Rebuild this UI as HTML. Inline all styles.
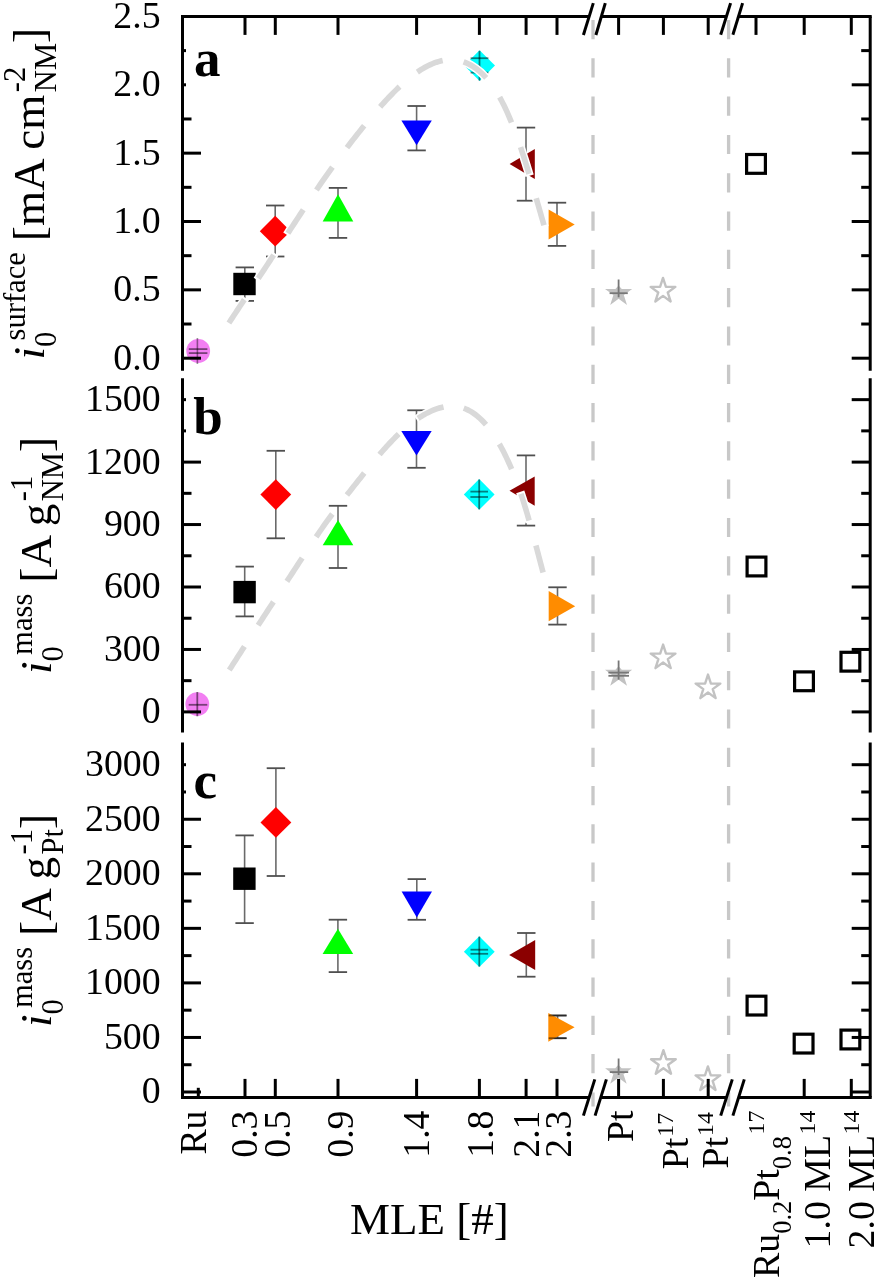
<!DOCTYPE html>
<html><head><meta charset="utf-8"><style>
html,body{margin:0;padding:0;background:#fff;}
svg{display:block;filter:blur(0.5px);}
</style></head><body>
<svg width="878" height="1280" viewBox="0 0 878 1280">
<rect x="0" y="0" width="878" height="1280" fill="#fff"/>
<line x1="593.0" y1="20" x2="593.0" y2="1106.4" stroke="#c8c8c8" stroke-width="3.3" stroke-dasharray="19.2 19.1"/>
<line x1="728.6" y1="20" x2="728.6" y2="1106.4" stroke="#c8c8c8" stroke-width="3.3" stroke-dasharray="19.2 19.1"/>
<circle cx="198.2" cy="351" r="11.9" fill="#f27ff2"/>
<line x1="197.4" y1="338" x2="197.4" y2="364" stroke="#000" stroke-width="1.6" stroke-opacity="0.42"/>
<line x1="188.8" y1="349.1" x2="207.4" y2="349.1" stroke="#000" stroke-width="1.8" stroke-opacity="0.5"/>
<line x1="188.8" y1="353.1" x2="207.4" y2="353.1" stroke="#000" stroke-width="1.8" stroke-opacity="0.5"/>
<line x1="244.8" y1="267.4" x2="244.8" y2="300.9" stroke="#6a6a6a" stroke-width="1.6" />
<line x1="235.6" y1="267.4" x2="254" y2="267.4" stroke="#505050" stroke-width="1.8" />
<line x1="235.6" y1="300.9" x2="254" y2="300.9" stroke="#505050" stroke-width="1.8" />
<rect x="233.3" y="272.8" width="22.4" height="22.4" fill="#000"/>
<line x1="275.2" y1="205.5" x2="275.2" y2="256.5" stroke="#6a6a6a" stroke-width="1.6" />
<line x1="266" y1="205.5" x2="284.4" y2="205.5" stroke="#505050" stroke-width="1.8" />
<line x1="266" y1="256.5" x2="284.4" y2="256.5" stroke="#505050" stroke-width="1.8" />
<polygon points="275.2,215.8 290.6,231.2 275.2,246.6 259.8,231.2" fill="#ff0000" />
<line x1="338" y1="187.9" x2="338" y2="237.9" stroke="#6a6a6a" stroke-width="1.6" />
<line x1="328.8" y1="187.9" x2="347.2" y2="187.9" stroke="#505050" stroke-width="1.8" />
<line x1="328.8" y1="237.9" x2="347.2" y2="237.9" stroke="#505050" stroke-width="1.8" />
<polygon points="338,194.3 353.3,221.6 322.7,221.6" fill="#00ff00" />
<line x1="416.6" y1="106" x2="416.6" y2="150.4" stroke="#6a6a6a" stroke-width="1.6" />
<line x1="407.4" y1="106" x2="425.8" y2="106" stroke="#505050" stroke-width="1.8" />
<line x1="407.4" y1="150.4" x2="425.8" y2="150.4" stroke="#505050" stroke-width="1.8" />
<polygon points="401.4,120.6 431.8,120.6 416.6,145.3" fill="#0000ff" />
<polygon points="479.6,50.2 495,65.6 479.6,81 464.2,65.6" fill="#00ffff" />
<line x1="479.5" y1="50.8" x2="479.5" y2="80.6" stroke="#000" stroke-width="1.8" stroke-opacity="0.5"/>
<line x1="470.6" y1="58.2" x2="488.4" y2="58.2" stroke="#000" stroke-width="1.8" stroke-opacity="0.5"/>
<line x1="470.6" y1="72.6" x2="488.4" y2="72.6" stroke="#000" stroke-width="1.8" stroke-opacity="0.5"/>
<line x1="526" y1="127.6" x2="526" y2="200.7" stroke="#6a6a6a" stroke-width="1.6" />
<line x1="516.8" y1="127.6" x2="535.2" y2="127.6" stroke="#505050" stroke-width="1.8" />
<line x1="516.8" y1="200.7" x2="535.2" y2="200.7" stroke="#505050" stroke-width="1.8" />
<polygon points="509.6,164 534.8,149 534.8,179" fill="#8b0000" />
<line x1="557" y1="202.7" x2="557" y2="245.9" stroke="#6a6a6a" stroke-width="1.6" />
<line x1="547.8" y1="202.7" x2="566.2" y2="202.7" stroke="#505050" stroke-width="1.8" />
<line x1="547.8" y1="245.9" x2="566.2" y2="245.9" stroke="#505050" stroke-width="1.8" />
<polygon points="548.6,209.5 574.7,224.4 548.6,239.5" fill="#ff8c00" />
<polygon points="618.6,285.53 621.81,288.98 632.2,288.98 623.8,295.09 627.01,304.97 618.6,298.86 610.19,304.97 613.4,295.09 605,288.98 615.39,288.98" fill="#c2c2c2" />
<line x1="618.6" y1="279.5" x2="618.6" y2="297.3" stroke="#777777" stroke-width="1.8" />
<line x1="609.6" y1="293.2" x2="627.8" y2="293.2" stroke="#777777" stroke-width="1.8" />
<polygon points="663,277.9 665.92,286.88 675.36,286.88 667.72,292.43 670.64,301.42 663,295.87 655.36,301.42 658.28,292.43 650.64,286.88 660.08,286.88" fill="none" stroke="#c2c2c2" stroke-width="2.4" stroke-linejoin="round"/>
<rect x="746.6" y="154.5" width="18.8" height="18.8" fill="none" stroke="#000" stroke-width="3.2"/>
<circle cx="197.3" cy="704.1" r="11.9" fill="#f27ff2"/>
<line x1="197.3" y1="692" x2="197.3" y2="716.3" stroke="#000" stroke-width="1.8" stroke-opacity="0.5"/>
<line x1="188.7" y1="704.8" x2="207.3" y2="704.8" stroke="#000" stroke-width="1.8" stroke-opacity="0.5"/>
<line x1="244.7" y1="566.6" x2="244.7" y2="616.4" stroke="#6a6a6a" stroke-width="1.6" />
<line x1="235.5" y1="566.6" x2="253.9" y2="566.6" stroke="#505050" stroke-width="1.8" />
<line x1="235.5" y1="616.4" x2="253.9" y2="616.4" stroke="#505050" stroke-width="1.8" />
<rect x="233.4" y="580.9" width="22.4" height="22.4" fill="#000"/>
<line x1="275.8" y1="450.8" x2="275.8" y2="538.3" stroke="#6a6a6a" stroke-width="1.6" />
<line x1="266.6" y1="450.8" x2="285" y2="450.8" stroke="#505050" stroke-width="1.8" />
<line x1="266.6" y1="538.3" x2="285" y2="538.3" stroke="#505050" stroke-width="1.8" />
<polygon points="275.8,479.2 291.2,494.6 275.8,510 260.4,494.6" fill="#ff0000" />
<line x1="338" y1="505.8" x2="338" y2="568" stroke="#6a6a6a" stroke-width="1.6" />
<line x1="328.8" y1="505.8" x2="347.2" y2="505.8" stroke="#505050" stroke-width="1.8" />
<line x1="328.8" y1="568" x2="347.2" y2="568" stroke="#505050" stroke-width="1.8" />
<polygon points="338,520 353.3,545.2 322.7,545.2" fill="#00ff00" />
<line x1="416.5" y1="410.3" x2="416.5" y2="467.8" stroke="#6a6a6a" stroke-width="1.6" />
<line x1="407.3" y1="410.3" x2="425.7" y2="410.3" stroke="#505050" stroke-width="1.8" />
<line x1="407.3" y1="467.8" x2="425.7" y2="467.8" stroke="#505050" stroke-width="1.8" />
<polygon points="401.3,431 431.7,431 416.5,455.6" fill="#0000ff" />
<polygon points="479.2,479 494.6,494.4 479.2,509.8 463.8,494.4" fill="#00ffff" />
<line x1="479.2" y1="479.5" x2="479.2" y2="509.4" stroke="#000" stroke-width="1.8" stroke-opacity="0.5"/>
<line x1="470.4" y1="491.6" x2="488" y2="491.6" stroke="#000" stroke-width="1.8" stroke-opacity="0.5"/>
<line x1="470.4" y1="497" x2="488" y2="497" stroke="#000" stroke-width="1.8" stroke-opacity="0.5"/>
<line x1="526" y1="455.4" x2="526" y2="525.6" stroke="#6a6a6a" stroke-width="1.6" />
<line x1="516.8" y1="455.4" x2="535.2" y2="455.4" stroke="#505050" stroke-width="1.8" />
<line x1="516.8" y1="525.6" x2="535.2" y2="525.6" stroke="#505050" stroke-width="1.8" />
<polygon points="509.5,490.8 534.7,476.5 534.7,505.7" fill="#8b0000" />
<line x1="557.5" y1="587.3" x2="557.5" y2="624.6" stroke="#6a6a6a" stroke-width="1.6" />
<line x1="548.3" y1="587.3" x2="566.7" y2="587.3" stroke="#505050" stroke-width="1.8" />
<line x1="548.3" y1="624.6" x2="566.7" y2="624.6" stroke="#505050" stroke-width="1.8" />
<polygon points="548.7,591 575.2,606.3 548.7,621.2" fill="#ff8c00" />
<polygon points="618.6,666.34 621.81,669.78 632.2,669.78 623.8,675.89 627.01,685.77 618.6,679.66 610.19,685.77 613.4,675.89 605,669.78 615.39,669.78" fill="#c2c2c2" />
<line x1="618.6" y1="660.5" x2="618.6" y2="679.6" stroke="#777777" stroke-width="1.8" />
<line x1="608.4" y1="672.6" x2="629" y2="672.6" stroke="#777777" stroke-width="1.8" />
<line x1="608.4" y1="675.8" x2="629" y2="675.8" stroke="#777777" stroke-width="1.8" />
<polygon points="663.1,644.6 666.02,653.58 675.46,653.58 667.82,659.13 670.74,668.12 663.1,662.57 655.46,668.12 658.38,659.13 650.74,653.58 660.18,653.58" fill="none" stroke="#c2c2c2" stroke-width="2.4" stroke-linejoin="round"/>
<polygon points="708,674.6 710.92,683.58 720.36,683.58 712.72,689.13 715.64,698.12 708,692.57 700.36,698.12 703.28,689.13 695.64,683.58 705.08,683.58" fill="none" stroke="#c2c2c2" stroke-width="2.4" stroke-linejoin="round"/>
<rect x="747.1" y="557.1" width="18.8" height="18.8" fill="none" stroke="#000" stroke-width="3.2"/>
<rect x="794.6" y="671.9" width="18.8" height="18.8" fill="none" stroke="#000" stroke-width="3.2"/>
<rect x="841" y="652.3" width="18.8" height="18.8" fill="none" stroke="#000" stroke-width="3.2"/>
<line x1="244.6" y1="835.4" x2="244.6" y2="923.1" stroke="#6a6a6a" stroke-width="1.6" />
<line x1="235.4" y1="835.4" x2="253.8" y2="835.4" stroke="#505050" stroke-width="1.8" />
<line x1="235.4" y1="923.1" x2="253.8" y2="923.1" stroke="#505050" stroke-width="1.8" />
<rect x="233.2" y="867.5" width="22.4" height="22.4" fill="#000"/>
<line x1="275.9" y1="768.2" x2="275.9" y2="876" stroke="#6a6a6a" stroke-width="1.6" />
<line x1="266.7" y1="768.2" x2="285.1" y2="768.2" stroke="#505050" stroke-width="1.8" />
<line x1="266.7" y1="876" x2="285.1" y2="876" stroke="#505050" stroke-width="1.8" />
<polygon points="275.9,807 291.3,822.4 275.9,837.8 260.5,822.4" fill="#ff0000" />
<line x1="337.9" y1="919.7" x2="337.9" y2="972.1" stroke="#6a6a6a" stroke-width="1.6" />
<line x1="328.7" y1="919.7" x2="347.1" y2="919.7" stroke="#505050" stroke-width="1.8" />
<line x1="328.7" y1="972.1" x2="347.1" y2="972.1" stroke="#505050" stroke-width="1.8" />
<polygon points="337.9,928.8 353.2,953.9 322.6,953.9" fill="#00ff00" />
<line x1="416.8" y1="879.1" x2="416.8" y2="919.8" stroke="#6a6a6a" stroke-width="1.6" />
<line x1="407.6" y1="879.1" x2="426" y2="879.1" stroke="#505050" stroke-width="1.8" />
<line x1="407.6" y1="919.8" x2="426" y2="919.8" stroke="#505050" stroke-width="1.8" />
<polygon points="401.6,891.6 432,891.6 416.8,917.4" fill="#0000ff" />
<polygon points="479.3,936.3 494.7,951.7 479.3,967.1 463.9,951.7" fill="#00ffff" />
<line x1="479.3" y1="936.6" x2="479.3" y2="966.6" stroke="#000" stroke-width="1.8" stroke-opacity="0.5"/>
<line x1="470.5" y1="949.7" x2="488.1" y2="949.7" stroke="#000" stroke-width="1.8" stroke-opacity="0.5"/>
<line x1="470.5" y1="953.8" x2="488.1" y2="953.8" stroke="#000" stroke-width="1.8" stroke-opacity="0.5"/>
<line x1="526.3" y1="933" x2="526.3" y2="976.7" stroke="#6a6a6a" stroke-width="1.6" />
<line x1="517.1" y1="933" x2="535.5" y2="933" stroke="#505050" stroke-width="1.8" />
<line x1="517.1" y1="976.7" x2="535.5" y2="976.7" stroke="#505050" stroke-width="1.8" />
<polygon points="509.2,955 535.2,940.1 535.2,970" fill="#8b0000" />
<line x1="557.6" y1="1015.5" x2="557.6" y2="1038.2" stroke="#6a6a6a" stroke-width="1.6" />
<line x1="548.4" y1="1015.5" x2="566.8" y2="1015.5" stroke="#505050" stroke-width="1.8" />
<line x1="548.4" y1="1038.2" x2="566.8" y2="1038.2" stroke="#505050" stroke-width="1.8" />
<polygon points="548.3,1013 574.6,1027.3 548.3,1041.8" fill="#ff8c00" />
<line x1="549" y1="1015.5" x2="566.2" y2="1015.5" stroke="#000" stroke-width="1.8" stroke-opacity="0.5"/>
<line x1="549" y1="1038.2" x2="566.2" y2="1038.2" stroke="#000" stroke-width="1.8" stroke-opacity="0.5"/>
<polygon points="618.4,1064.8 621.54,1068.17 631.71,1068.17 623.49,1074.15 626.63,1083.83 618.4,1077.85 610.17,1083.83 613.31,1074.15 605.09,1068.17 615.26,1068.17" fill="#c2c2c2" />
<line x1="618.6" y1="1058.5" x2="618.6" y2="1075" stroke="#777777" stroke-width="1.8" />
<line x1="609.8" y1="1072.1" x2="628.2" y2="1072.1" stroke="#777777" stroke-width="1.8" />
<polygon points="663.4,1050.2 666.32,1059.18 675.76,1059.18 668.12,1064.73 671.04,1073.72 663.4,1068.17 655.76,1073.72 658.68,1064.73 651.04,1059.18 660.48,1059.18" fill="none" stroke="#c2c2c2" stroke-width="2.4" stroke-linejoin="round"/>
<polygon points="707.9,1066.4 710.82,1075.38 720.26,1075.38 712.62,1080.93 715.54,1089.92 707.9,1084.37 700.26,1089.92 703.18,1080.93 695.54,1075.38 704.98,1075.38" fill="none" stroke="#c2c2c2" stroke-width="2.4" stroke-linejoin="round"/>
<rect x="747.1" y="996.2" width="18.8" height="18.8" fill="none" stroke="#000" stroke-width="3.2"/>
<rect x="794.2" y="1034.2" width="18.8" height="18.8" fill="none" stroke="#000" stroke-width="3.2"/>
<rect x="841" y="1030.1" width="18.8" height="18.8" fill="none" stroke="#000" stroke-width="3.2"/>
<line x1="198.3" y1="1087.8" x2="198.3" y2="1096" stroke="#000" stroke-width="3" />
<path d="M227.78,324.65 L229.13,322.59 L230.49,320.54 L231.85,318.49 L233.21,316.43 L234.56,314.38 L235.92,312.33 L237.28,310.27 L238.64,308.22 L239.99,306.17 L241.35,304.11 L242.71,302.06 L244.07,300.01 L245.42,297.95 M257.26,280.02 L258.61,277.96 L259.97,275.91 L261.32,273.85 L262.67,271.79 L264.02,269.74 L265.37,267.68 L266.73,265.62 L268.07,263.56 L269.42,261.5 L270.77,259.44 L272.12,257.38 L273.47,255.32 L274.82,253.26 M286.85,234.84 L288.19,232.78 L289.54,230.72 L290.89,228.66 L292.23,226.6 L293.58,224.54 L294.93,222.48 L296.27,220.42 L297.62,218.36 L298.97,216.3 L300.32,214.24 L301.67,212.18 L303.02,210.13 L304.38,208.07 M315.3,191.69 L316.68,189.65 L318.06,187.62 L319.45,185.59 L320.84,183.56 L322.24,181.53 L323.65,179.51 L325.06,177.49 L326.47,175.48 L327.89,173.47 L329.32,171.46 L330.75,169.46 L332.19,167.47 L333.64,165.47 M345.71,149.25 L347.2,147.3 L348.7,145.34 L350.2,143.39 L351.71,141.45 L353.22,139.51 L354.74,137.57 L356.26,135.63 L357.79,133.7 L359.32,131.77 L360.85,129.85 L362.39,127.93 L363.94,126.01 L365.49,124.1 M378.84,108.3 L380.47,106.45 L382.12,104.62 L383.77,102.8 L385.43,100.98 L387.11,99.18 L388.8,97.39 L390.5,95.61 L392.22,93.85 L393.95,92.1 L395.7,90.37 L397.47,88.65 L399.25,86.96 L401.06,85.28 M415.73,73.25 L417.75,71.84 L419.8,70.48 L421.89,69.17 L424,67.91 L426.16,66.72 L428.34,65.59 L430.57,64.53 L432.83,63.56 L435.12,62.67 L437.45,61.88 L439.82,61.2 L442.22,60.64 L444.64,60.2 M461.69,61.27 L464.03,62.03 L466.32,62.93 L468.56,63.97 L470.73,65.12 L472.85,66.38 L474.9,67.74 L476.89,69.19 L478.81,70.72 L480.68,72.32 L482.48,74 L484.22,75.74 L485.9,77.54 L487.52,79.39 M498.67,95.48 L499.89,97.62 L501.07,99.78 L502.22,101.96 L503.33,104.15 L504.42,106.36 L505.48,108.58 L506.51,110.82 L507.52,113.06 L508.51,115.32 L509.48,117.58 L510.42,119.85 L511.35,122.13 L512.27,124.42 M519.9,145.3 L520.7,147.63 L521.48,149.96 L522.25,152.3 L523.02,154.64 L523.78,156.98 L524.53,159.33 L525.27,161.67 L526.01,164.02 L526.74,166.37 L527.47,168.72 L528.19,171.08 L528.9,173.43 L529.61,175.79 M535.67,196.38 L536.35,198.74 L537.04,201.1 L537.72,203.47 L538.4,205.84 L539.08,208.2 L539.76,210.57 L540.44,212.93 L541.12,215.3 L541.8,217.66 L542.48,220.03 L543.16,222.4 L543.85,224.76 L544.53,227.12" fill="none" stroke="#fff" stroke-width="8.6" stroke-linecap="butt"/>
<path d="M228.88,322.98 L230.07,321.18 L231.25,319.38 L232.44,317.59 L233.63,315.79 L234.82,313.99 L236.01,312.2 L237.19,310.4 L238.38,308.61 L239.57,306.81 L240.76,305.01 L241.95,303.22 L243.13,301.42 L244.32,299.62 M258.36,278.35 L259.54,276.55 L260.73,274.75 L261.91,272.95 L263.09,271.15 L264.28,269.35 L265.46,267.55 L266.64,265.75 L267.82,263.95 L269,262.15 L270.18,260.35 L271.36,258.54 L272.54,256.74 L273.72,254.94 M287.94,233.17 L289.12,231.37 L290.3,229.56 L291.48,227.76 L292.65,225.96 L293.83,224.15 L295.01,222.35 L296.19,220.55 L297.37,218.75 L298.55,216.94 L299.73,215.14 L300.91,213.34 L302.09,211.54 L303.28,209.74 M316.42,190.03 L317.63,188.25 L318.84,186.47 L320.06,184.7 L321.28,182.92 L322.5,181.15 L323.73,179.38 L324.97,177.62 L326.21,175.86 L327.45,174.1 L328.7,172.34 L329.95,170.59 L331.2,168.84 L332.46,167.09 M346.92,147.66 L348.23,145.95 L349.55,144.25 L350.86,142.54 L352.18,140.84 L353.51,139.14 L354.83,137.45 L356.17,135.75 L357.5,134.06 L358.84,132.37 L360.18,130.69 L361.53,129.01 L362.88,127.33 L364.23,125.66 M380.17,106.8 L381.6,105.19 L383.04,103.59 L384.5,102 L385.96,100.42 L387.43,98.84 L388.91,97.28 L390.4,95.72 L391.9,94.18 L393.41,92.65 L394.94,91.13 L396.47,89.62 L398.02,88.12 L399.59,86.64 M417.37,72.1 L419.16,70.9 L420.97,69.73 L422.81,68.61 L424.67,67.53 L426.56,66.5 L428.48,65.52 L430.43,64.6 L432.4,63.73 L434.4,62.94 L436.43,62.21 L438.49,61.57 L440.57,61.01 L442.67,60.55 M463.6,61.88 L465.61,62.64 L467.59,63.5 L469.52,64.46 L471.4,65.5 L473.24,66.62 L475.02,67.82 L476.76,69.09 L478.46,70.42 L480.1,71.81 L481.7,73.26 L483.25,74.75 L484.75,76.3 L486.21,77.88 M499.66,97.22 L500.7,99.11 L501.72,101.01 L502.71,102.92 L503.67,104.84 L504.62,106.78 L505.55,108.72 L506.45,110.68 L507.34,112.64 L508.2,114.61 L509.06,116.59 L509.89,118.57 L510.72,120.57 L511.53,122.56 M520.55,147.19 L521.23,149.24 L521.91,151.28 L522.59,153.32 L523.26,155.37 L523.92,157.42 L524.57,159.47 L525.22,161.53 L525.87,163.58 L526.51,165.64 L527.15,167.7 L527.78,169.75 L528.41,171.81 L529.03,173.88 M536.23,198.3 L536.82,200.37 L537.42,202.44 L538.02,204.51 L538.61,206.57 L539.21,208.64 L539.8,210.71 L540.4,212.79 L540.99,214.86 L541.59,216.93 L542.18,218.99 L542.78,221.06 L543.38,223.13 L543.97,225.2" fill="none" stroke="#d9d9d9" stroke-width="5.6" stroke-linecap="butt"/>
<path d="M228.18,671.7 L229.51,669.63 L230.85,667.56 L232.18,665.49 L233.52,663.42 L234.85,661.35 L236.18,659.28 L237.52,657.22 L238.85,655.15 L240.18,653.08 L241.52,651.01 L242.85,648.94 L244.19,646.87 L245.52,644.8 M257.03,627.01 L258.37,624.95 L259.71,622.88 L261.05,620.82 L262.39,618.76 L263.73,616.69 L265.08,614.63 L266.42,612.57 L267.77,610.51 L269.12,608.45 L270.46,606.39 L271.81,604.33 L273.16,602.27 L274.51,600.21 M285.79,583.04 L287.14,580.98 L288.49,578.92 L289.84,576.86 L291.18,574.8 L292.53,572.74 L293.88,570.68 L295.22,568.62 L296.57,566.56 L297.91,564.49 L299.25,562.43 L300.6,560.37 L301.94,558.31 L303.29,556.25 M315.02,538.52 L316.4,536.48 L317.78,534.45 L319.17,532.42 L320.57,530.39 L321.98,528.37 L323.39,526.36 L324.81,524.35 L326.24,522.34 L327.68,520.35 L329.13,518.36 L330.59,516.37 L332.05,514.39 L333.52,512.42 M345.65,496.62 L347.17,494.68 L348.69,492.74 L350.21,490.81 L351.73,488.88 L353.26,486.95 L354.79,485.02 L356.31,483.08 L357.84,481.15 L359.37,479.22 L360.9,477.29 L362.43,475.37 L363.96,473.44 L365.5,471.52 M378.23,456.01 L379.83,454.14 L381.44,452.28 L383.06,450.43 L384.7,448.59 L386.35,446.76 L388.01,444.95 L389.69,443.15 L391.39,441.37 L393.11,439.6 L394.84,437.86 L396.59,436.13 L398.37,434.42 L400.16,432.74 M416.48,419.47 L418.52,418.1 L420.59,416.76 L422.69,415.48 L424.82,414.25 L426.99,413.08 L429.19,411.98 L431.42,410.94 L433.69,409.98 L435.98,409.1 L438.32,408.31 L440.68,407.63 L443.08,407.07 L445.5,406.63 M461.86,407.62 L464.2,408.39 L466.48,409.31 L468.7,410.37 L470.86,411.55 L472.95,412.85 L474.97,414.26 L476.92,415.76 L478.8,417.34 L480.62,419 L482.38,420.72 L484.08,422.5 L485.72,424.34 L487.31,426.22 M498.35,442.27 L499.58,444.4 L500.78,446.55 L501.95,448.72 L503.1,450.9 L504.22,453.09 L505.31,455.29 L506.38,457.51 L507.43,459.74 L508.46,461.97 L509.47,464.22 L510.46,466.47 L511.42,468.74 L512.37,471.01 M520.22,491.88 L521.01,494.21 L521.79,496.55 L522.56,498.88 L523.31,501.23 L524.06,503.57 L524.79,505.92 L525.51,508.28 L526.22,510.63 L526.92,512.99 L527.61,515.36 L528.3,517.72 L528.98,520.09 L529.65,522.45 M535.41,543.53 L536.04,545.91 L536.67,548.29 L537.3,550.67 L537.93,553.05 L538.56,555.43 L539.19,557.81 L539.81,560.19 L540.44,562.57 L541.07,564.95 L541.7,567.33 L542.33,569.71 L542.96,572.09 L543.59,574.47" fill="none" stroke="#fff" stroke-width="8.6" stroke-linecap="butt"/>
<path d="M229.26,670.02 L230.43,668.21 L231.6,666.4 L232.77,664.59 L233.93,662.78 L235.1,660.97 L236.27,659.16 L237.43,657.34 L238.6,655.53 L239.77,653.72 L240.93,651.91 L242.1,650.1 L243.27,648.29 L244.44,646.48 M258.11,625.33 L259.29,623.53 L260.46,621.72 L261.63,619.92 L262.81,618.11 L263.99,616.31 L265.16,614.5 L266.34,612.7 L267.52,610.9 L268.7,609.09 L269.87,607.29 L271.05,605.49 L272.24,603.69 L273.42,601.89 M286.89,581.37 L288.07,579.56 L289.25,577.76 L290.43,575.96 L291.61,574.16 L292.78,572.36 L293.96,570.55 L295.14,568.75 L296.31,566.94 L297.49,565.14 L298.67,563.33 L299.84,561.53 L301.02,559.73 L302.19,557.92 M316.14,536.86 L317.35,535.08 L318.56,533.3 L319.78,531.53 L321.01,529.76 L322.24,527.99 L323.48,526.23 L324.72,524.47 L325.97,522.72 L327.23,520.97 L328.5,519.23 L329.77,517.49 L331.05,515.75 L332.33,514.02 M346.88,495.04 L348.21,493.35 L349.54,491.66 L350.88,489.97 L352.21,488.27 L353.55,486.58 L354.88,484.89 L356.22,483.21 L357.55,481.52 L358.89,479.83 L360.23,478.14 L361.56,476.45 L362.91,474.76 L364.25,473.08 M379.53,454.49 L380.94,452.86 L382.35,451.24 L383.78,449.63 L385.21,448.02 L386.66,446.42 L388.12,444.84 L389.59,443.26 L391.07,441.7 L392.57,440.15 L394.08,438.62 L395.6,437.1 L397.14,435.59 L398.7,434.1 M418.13,418.35 L419.94,417.18 L421.77,416.04 L423.62,414.94 L425.5,413.88 L427.4,412.87 L429.33,411.91 L431.28,411 L433.26,410.15 L435.26,409.36 L437.29,408.64 L439.35,408 L441.43,407.44 L443.53,406.97 M463.76,408.23 L465.77,409 L467.74,409.89 L469.65,410.87 L471.52,411.95 L473.33,413.11 L475.09,414.35 L476.8,415.66 L478.45,417.04 L480.06,418.48 L481.62,419.96 L483.13,421.5 L484.6,423.07 L486.02,424.69 M499.35,444 L500.41,445.88 L501.44,447.77 L502.46,449.67 L503.45,451.58 L504.42,453.5 L505.38,455.43 L506.32,457.37 L507.24,459.32 L508.14,461.27 L509.03,463.23 L509.9,465.2 L510.76,467.18 L511.6,469.16 M520.86,493.77 L521.55,495.82 L522.22,497.86 L522.89,499.91 L523.55,501.96 L524.19,504.01 L524.83,506.07 L525.46,508.13 L526.09,510.19 L526.7,512.26 L527.31,514.32 L527.92,516.39 L528.51,518.46 L529.1,520.53 M535.92,545.47 L536.47,547.55 L537.03,549.63 L537.58,551.71 L538.13,553.79 L538.68,555.88 L539.23,557.96 L539.77,560.04 L540.32,562.12 L540.87,564.21 L541.42,566.29 L541.97,568.37 L542.53,570.45 L543.08,572.53" fill="none" stroke="#d9d9d9" stroke-width="5.6" stroke-linecap="butt"/>
<line x1="182.5" y1="16.4" x2="182.5" y2="370.7" stroke="#000" stroke-width="3" />
<line x1="870.2" y1="16.4" x2="870.2" y2="370.7" stroke="#000" stroke-width="3" />
<line x1="182.5" y1="378.2" x2="182.5" y2="732.4" stroke="#000" stroke-width="3" />
<line x1="870.2" y1="378.2" x2="870.2" y2="732.4" stroke="#000" stroke-width="3" />
<line x1="182.5" y1="742.6" x2="182.5" y2="1097.4" stroke="#000" stroke-width="3" />
<line x1="870.2" y1="742.6" x2="870.2" y2="1097.4" stroke="#000" stroke-width="3" />
<line x1="181" y1="16.4" x2="589.2" y2="16.4" stroke="#000" stroke-width="3" />
<line x1="181" y1="1097.4" x2="589.2" y2="1097.4" stroke="#000" stroke-width="3" />
<line x1="601.4" y1="16.4" x2="726.4" y2="16.4" stroke="#000" stroke-width="3" />
<line x1="601.4" y1="1097.4" x2="726.4" y2="1097.4" stroke="#000" stroke-width="3" />
<line x1="738.5" y1="16.4" x2="871.7" y2="16.4" stroke="#000" stroke-width="3" />
<line x1="738.5" y1="1097.4" x2="871.7" y2="1097.4" stroke="#000" stroke-width="3" />
<line x1="583.4" y1="35" x2="593.3" y2="3.1" stroke="#000" stroke-width="3" />
<line x1="595.9" y1="35" x2="605.3" y2="3.1" stroke="#000" stroke-width="3" />
<line x1="720.7" y1="34.7" x2="730.6" y2="3.1" stroke="#000" stroke-width="3" />
<line x1="732.9" y1="34.7" x2="742.6" y2="3.1" stroke="#000" stroke-width="3" />
<line x1="583.4" y1="1115.6" x2="594.8" y2="1079.4" stroke="#000" stroke-width="3" />
<line x1="595.1" y1="1115.6" x2="606.4" y2="1079.4" stroke="#000" stroke-width="3" />
<line x1="720.7" y1="1115.6" x2="732.3" y2="1079.4" stroke="#000" stroke-width="3" />
<line x1="732.9" y1="1115.6" x2="744.3" y2="1079.4" stroke="#000" stroke-width="3" />
<line x1="245" y1="16.4" x2="245" y2="34.9" stroke="#000" stroke-width="3" />
<line x1="245" y1="1097.4" x2="245" y2="1078.9" stroke="#000" stroke-width="3" />
<line x1="275.3" y1="16.4" x2="275.3" y2="34.9" stroke="#000" stroke-width="3" />
<line x1="275.3" y1="1097.4" x2="275.3" y2="1078.9" stroke="#000" stroke-width="3" />
<line x1="338" y1="16.4" x2="338" y2="34.9" stroke="#000" stroke-width="3" />
<line x1="338" y1="1097.4" x2="338" y2="1078.9" stroke="#000" stroke-width="3" />
<line x1="416.6" y1="16.4" x2="416.6" y2="34.9" stroke="#000" stroke-width="3" />
<line x1="416.6" y1="1097.4" x2="416.6" y2="1078.9" stroke="#000" stroke-width="3" />
<line x1="479.4" y1="16.4" x2="479.4" y2="34.9" stroke="#000" stroke-width="3" />
<line x1="479.4" y1="1097.4" x2="479.4" y2="1078.9" stroke="#000" stroke-width="3" />
<line x1="526.1" y1="16.4" x2="526.1" y2="34.9" stroke="#000" stroke-width="3" />
<line x1="526.1" y1="1097.4" x2="526.1" y2="1078.9" stroke="#000" stroke-width="3" />
<line x1="557" y1="16.4" x2="557" y2="34.9" stroke="#000" stroke-width="3" />
<line x1="557" y1="1097.4" x2="557" y2="1078.9" stroke="#000" stroke-width="3" />
<line x1="618.6" y1="16.4" x2="618.6" y2="34.9" stroke="#000" stroke-width="3" />
<line x1="618.6" y1="1097.4" x2="618.6" y2="1078.9" stroke="#000" stroke-width="3" />
<line x1="663.4" y1="16.4" x2="663.4" y2="34.9" stroke="#000" stroke-width="3" />
<line x1="663.4" y1="1097.4" x2="663.4" y2="1078.9" stroke="#000" stroke-width="3" />
<line x1="708.2" y1="16.4" x2="708.2" y2="34.9" stroke="#000" stroke-width="3" />
<line x1="708.2" y1="1097.4" x2="708.2" y2="1078.9" stroke="#000" stroke-width="3" />
<line x1="756" y1="16.4" x2="756" y2="34.9" stroke="#000" stroke-width="3" />
<line x1="804.2" y1="16.4" x2="804.2" y2="34.9" stroke="#000" stroke-width="3" />
<line x1="804.2" y1="1097.4" x2="804.2" y2="1078.9" stroke="#000" stroke-width="3" />
<line x1="851.3" y1="16.4" x2="851.3" y2="34.9" stroke="#000" stroke-width="3" />
<line x1="851.3" y1="1097.4" x2="851.3" y2="1078.9" stroke="#000" stroke-width="3" />
<line x1="182.5" y1="358.2" x2="201" y2="358.2" stroke="#000" stroke-width="3" />
<line x1="870.2" y1="358.2" x2="851.7" y2="358.2" stroke="#000" stroke-width="3" />
<line x1="182.5" y1="289.85" x2="201" y2="289.85" stroke="#000" stroke-width="3" />
<line x1="870.2" y1="289.85" x2="851.7" y2="289.85" stroke="#000" stroke-width="3" />
<line x1="182.5" y1="221.5" x2="201" y2="221.5" stroke="#000" stroke-width="3" />
<line x1="870.2" y1="221.5" x2="851.7" y2="221.5" stroke="#000" stroke-width="3" />
<line x1="182.5" y1="153.15" x2="201" y2="153.15" stroke="#000" stroke-width="3" />
<line x1="870.2" y1="153.15" x2="851.7" y2="153.15" stroke="#000" stroke-width="3" />
<line x1="182.5" y1="84.8" x2="201" y2="84.8" stroke="#000" stroke-width="3" />
<line x1="870.2" y1="84.8" x2="851.7" y2="84.8" stroke="#000" stroke-width="3" />
<line x1="182.5" y1="324.02" x2="191.5" y2="324.02" stroke="#000" stroke-width="3" />
<line x1="870.2" y1="324.02" x2="861.2" y2="324.02" stroke="#000" stroke-width="3" />
<line x1="182.5" y1="255.68" x2="191.5" y2="255.68" stroke="#000" stroke-width="3" />
<line x1="870.2" y1="255.68" x2="861.2" y2="255.68" stroke="#000" stroke-width="3" />
<line x1="182.5" y1="187.32" x2="191.5" y2="187.32" stroke="#000" stroke-width="3" />
<line x1="870.2" y1="187.32" x2="861.2" y2="187.32" stroke="#000" stroke-width="3" />
<line x1="182.5" y1="118.98" x2="191.5" y2="118.98" stroke="#000" stroke-width="3" />
<line x1="870.2" y1="118.98" x2="861.2" y2="118.98" stroke="#000" stroke-width="3" />
<line x1="182.5" y1="50.62" x2="191.5" y2="50.62" stroke="#000" stroke-width="3" />
<line x1="870.2" y1="50.62" x2="861.2" y2="50.62" stroke="#000" stroke-width="3" />
<line x1="182.5" y1="711.9" x2="201" y2="711.9" stroke="#000" stroke-width="3" />
<line x1="870.2" y1="711.9" x2="851.7" y2="711.9" stroke="#000" stroke-width="3" />
<line x1="182.5" y1="649.45" x2="201" y2="649.45" stroke="#000" stroke-width="3" />
<line x1="870.2" y1="649.45" x2="851.7" y2="649.45" stroke="#000" stroke-width="3" />
<line x1="182.5" y1="587" x2="201" y2="587" stroke="#000" stroke-width="3" />
<line x1="870.2" y1="587" x2="851.7" y2="587" stroke="#000" stroke-width="3" />
<line x1="182.5" y1="524.55" x2="201" y2="524.55" stroke="#000" stroke-width="3" />
<line x1="870.2" y1="524.55" x2="851.7" y2="524.55" stroke="#000" stroke-width="3" />
<line x1="182.5" y1="462.1" x2="201" y2="462.1" stroke="#000" stroke-width="3" />
<line x1="870.2" y1="462.1" x2="851.7" y2="462.1" stroke="#000" stroke-width="3" />
<line x1="182.5" y1="399.65" x2="201" y2="399.65" stroke="#000" stroke-width="3" />
<line x1="870.2" y1="399.65" x2="851.7" y2="399.65" stroke="#000" stroke-width="3" />
<line x1="182.5" y1="680.67" x2="191.5" y2="680.67" stroke="#000" stroke-width="3" />
<line x1="870.2" y1="680.67" x2="861.2" y2="680.67" stroke="#000" stroke-width="3" />
<line x1="182.5" y1="618.23" x2="191.5" y2="618.23" stroke="#000" stroke-width="3" />
<line x1="870.2" y1="618.23" x2="861.2" y2="618.23" stroke="#000" stroke-width="3" />
<line x1="182.5" y1="555.77" x2="191.5" y2="555.77" stroke="#000" stroke-width="3" />
<line x1="870.2" y1="555.77" x2="861.2" y2="555.77" stroke="#000" stroke-width="3" />
<line x1="182.5" y1="493.32" x2="191.5" y2="493.32" stroke="#000" stroke-width="3" />
<line x1="870.2" y1="493.32" x2="861.2" y2="493.32" stroke="#000" stroke-width="3" />
<line x1="182.5" y1="430.88" x2="191.5" y2="430.88" stroke="#000" stroke-width="3" />
<line x1="870.2" y1="430.88" x2="861.2" y2="430.88" stroke="#000" stroke-width="3" />
<line x1="182.5" y1="1092" x2="201" y2="1092" stroke="#000" stroke-width="3" />
<line x1="870.2" y1="1092" x2="851.7" y2="1092" stroke="#000" stroke-width="3" />
<line x1="182.5" y1="1037.45" x2="201" y2="1037.45" stroke="#000" stroke-width="3" />
<line x1="870.2" y1="1037.45" x2="851.7" y2="1037.45" stroke="#000" stroke-width="3" />
<line x1="182.5" y1="982.9" x2="201" y2="982.9" stroke="#000" stroke-width="3" />
<line x1="870.2" y1="982.9" x2="851.7" y2="982.9" stroke="#000" stroke-width="3" />
<line x1="182.5" y1="928.35" x2="201" y2="928.35" stroke="#000" stroke-width="3" />
<line x1="870.2" y1="928.35" x2="851.7" y2="928.35" stroke="#000" stroke-width="3" />
<line x1="182.5" y1="873.8" x2="201" y2="873.8" stroke="#000" stroke-width="3" />
<line x1="870.2" y1="873.8" x2="851.7" y2="873.8" stroke="#000" stroke-width="3" />
<line x1="182.5" y1="819.25" x2="201" y2="819.25" stroke="#000" stroke-width="3" />
<line x1="870.2" y1="819.25" x2="851.7" y2="819.25" stroke="#000" stroke-width="3" />
<line x1="182.5" y1="764.7" x2="201" y2="764.7" stroke="#000" stroke-width="3" />
<line x1="870.2" y1="764.7" x2="851.7" y2="764.7" stroke="#000" stroke-width="3" />
<line x1="182.5" y1="1064.72" x2="191.5" y2="1064.72" stroke="#000" stroke-width="3" />
<line x1="870.2" y1="1064.72" x2="861.2" y2="1064.72" stroke="#000" stroke-width="3" />
<line x1="182.5" y1="1010.17" x2="191.5" y2="1010.17" stroke="#000" stroke-width="3" />
<line x1="870.2" y1="1010.17" x2="861.2" y2="1010.17" stroke="#000" stroke-width="3" />
<line x1="182.5" y1="955.62" x2="191.5" y2="955.62" stroke="#000" stroke-width="3" />
<line x1="870.2" y1="955.62" x2="861.2" y2="955.62" stroke="#000" stroke-width="3" />
<line x1="182.5" y1="901.08" x2="191.5" y2="901.08" stroke="#000" stroke-width="3" />
<line x1="870.2" y1="901.08" x2="861.2" y2="901.08" stroke="#000" stroke-width="3" />
<line x1="182.5" y1="846.53" x2="191.5" y2="846.53" stroke="#000" stroke-width="3" />
<line x1="870.2" y1="846.53" x2="861.2" y2="846.53" stroke="#000" stroke-width="3" />
<line x1="182.5" y1="791.98" x2="191.5" y2="791.98" stroke="#000" stroke-width="3" />
<line x1="870.2" y1="791.98" x2="861.2" y2="791.98" stroke="#000" stroke-width="3" />
<rect x="186" y="18.2" width="44" height="73.8" fill="#fff"/>
<rect x="186" y="381" width="44" height="66" fill="#fff"/>
<rect x="186" y="745" width="44" height="67" fill="#fff"/>
<text x="194.0" y="75.6" font-family="'Liberation Serif', serif" font-size="53" font-weight="bold">a</text>
<text x="193.2" y="433.6" font-family="'Liberation Serif', serif" font-size="53" font-weight="bold">b</text>
<text x="193.6" y="798.4" font-family="'Liberation Serif', serif" font-size="53" font-weight="bold">c</text>
<text x="160.6" y="369.68" font-family="'Liberation Serif', serif" font-size="37.8" text-anchor="end">0.0</text>
<text x="160.6" y="301.33" font-family="'Liberation Serif', serif" font-size="37.8" text-anchor="end">0.5</text>
<text x="160.6" y="232.98" font-family="'Liberation Serif', serif" font-size="37.8" text-anchor="end">1.0</text>
<text x="160.6" y="164.63" font-family="'Liberation Serif', serif" font-size="37.8" text-anchor="end">1.5</text>
<text x="160.6" y="96.28" font-family="'Liberation Serif', serif" font-size="37.8" text-anchor="end">2.0</text>
<text x="160.6" y="27.93" font-family="'Liberation Serif', serif" font-size="37.8" text-anchor="end">2.5</text>
<text x="160.6" y="723.38" font-family="'Liberation Serif', serif" font-size="37.8" text-anchor="end">0</text>
<text x="160.6" y="660.93" font-family="'Liberation Serif', serif" font-size="37.8" text-anchor="end">300</text>
<text x="160.6" y="598.48" font-family="'Liberation Serif', serif" font-size="37.8" text-anchor="end">600</text>
<text x="160.6" y="536.03" font-family="'Liberation Serif', serif" font-size="37.8" text-anchor="end">900</text>
<text x="160.6" y="473.58" font-family="'Liberation Serif', serif" font-size="37.8" text-anchor="end">1200</text>
<text x="160.6" y="411.13" font-family="'Liberation Serif', serif" font-size="37.8" text-anchor="end">1500</text>
<text x="160.6" y="1103.48" font-family="'Liberation Serif', serif" font-size="37.8" text-anchor="end">0</text>
<text x="160.6" y="1048.93" font-family="'Liberation Serif', serif" font-size="37.8" text-anchor="end">500</text>
<text x="160.6" y="994.38" font-family="'Liberation Serif', serif" font-size="37.8" text-anchor="end">1000</text>
<text x="160.6" y="939.83" font-family="'Liberation Serif', serif" font-size="37.8" text-anchor="end">1500</text>
<text x="160.6" y="885.28" font-family="'Liberation Serif', serif" font-size="37.8" text-anchor="end">2000</text>
<text x="160.6" y="830.73" font-family="'Liberation Serif', serif" font-size="37.8" text-anchor="end">2500</text>
<text x="160.6" y="776.18" font-family="'Liberation Serif', serif" font-size="37.8" text-anchor="end">3000</text>
<text transform="translate(206,1110.5) rotate(-90)" font-family="'Liberation Serif', serif" font-size="37.8" text-anchor="end">Ru</text>
<text transform="translate(256.6,1110.5) rotate(-90)" font-family="'Liberation Serif', serif" font-size="37.8" text-anchor="end">0.3</text>
<text transform="translate(290.4,1110.5) rotate(-90)" font-family="'Liberation Serif', serif" font-size="37.8" text-anchor="end">0.5</text>
<text transform="translate(352.8,1110.5) rotate(-90)" font-family="'Liberation Serif', serif" font-size="37.8" text-anchor="end">0.9</text>
<text transform="translate(428.8,1110.5) rotate(-90)" font-family="'Liberation Serif', serif" font-size="37.8" text-anchor="end">1.4</text>
<text transform="translate(492.6,1110.5) rotate(-90)" font-family="'Liberation Serif', serif" font-size="37.8" text-anchor="end">1.8</text>
<text transform="translate(539.2,1110.5) rotate(-90)" font-family="'Liberation Serif', serif" font-size="37.8" text-anchor="end">2.1</text>
<text transform="translate(571.4,1110.5) rotate(-90)" font-family="'Liberation Serif', serif" font-size="37.8" text-anchor="end">2.3</text>
<text transform="translate(633.2,1110.5) rotate(-90)" font-family="'Liberation Serif', serif" font-size="37.8" text-anchor="end">Pt</text>
<text transform="translate(687.6,1112.7) rotate(-90)" font-family="'Liberation Serif', serif" font-size="37.8" text-anchor="end">Pt<tspan dy="-15" dx="1" font-size="24">17</tspan></text>
<text transform="translate(727.5,1112) rotate(-90)" font-family="'Liberation Serif', serif" font-size="37.8" text-anchor="end">Pt<tspan dy="-15" dx="1" font-size="24">14</tspan></text>
<text transform="translate(779,1110.5) rotate(-90)" font-family="'Liberation Serif', serif" font-size="37.8" text-anchor="end">Ru<tspan dy="11.5" font-size="26.5">0.2</tspan><tspan dy="-11.5">Pt</tspan><tspan dy="11.5" font-size="26.5">0.8</tspan><tspan dy="-26.5" dx="1.5" font-size="24">17</tspan></text>
<text transform="translate(830.2,1110.5) rotate(-90)" font-family="'Liberation Serif', serif" font-size="37.8" text-anchor="end">1.0 ML<tspan dy="-15" dx="0.5" font-size="24">14</tspan></text>
<text transform="translate(873.8,1110.5) rotate(-90)" font-family="'Liberation Serif', serif" font-size="37.8" text-anchor="end">2.0 ML<tspan dy="-15" dx="0.5" font-size="24">14</tspan></text>
<text x="350" y="1234.2" font-family="'Liberation Serif', serif" font-size="45">MLE [#]</text>
<g transform="translate(43.7,359.5) rotate(-90)" font-family="'Liberation Serif', serif"><text x="0" y="0" font-size="45" font-style="italic">i</text><text x="12.51" y="12" font-size="30.6">0</text><text x="19" y="-19" font-size="30.6">surface</text><text x="118.59" y="0" font-size="45" xml:space="preserve">[mA cm</text><text x="267.32" y="-19" font-size="30.6">-2</text><text x="267.32" y="12" font-size="30.6">NM</text><text x="316.61" y="0" font-size="45">]</text></g>
<g transform="translate(51.4,673.9) rotate(-90)" font-family="'Liberation Serif', serif"><text x="0" y="0" font-size="45" font-style="italic">i</text><text x="12.51" y="12" font-size="30.6">0</text><text x="19" y="-19" font-size="30.6">mass</text><text x="91.45" y="0" font-size="45" xml:space="preserve">[A g</text><text x="172.68" y="-19" font-size="30.6">-1</text><text x="172.68" y="12" font-size="30.6">NM</text><text x="221.97" y="0" font-size="45">]</text></g>
<g transform="translate(51,1027.1) rotate(-90)" font-family="'Liberation Serif', serif"><text x="0" y="0" font-size="45" font-style="italic">i</text><text x="12.51" y="12" font-size="30.6">0</text><text x="19" y="-19" font-size="30.6">mass</text><text x="91.45" y="0" font-size="45" xml:space="preserve">[A g</text><text x="172.68" y="-19" font-size="30.6">-1</text><text x="172.68" y="12" font-size="30.6">Pt</text><text x="198.2" y="0" font-size="45">]</text></g>
</svg>
</body></html>
